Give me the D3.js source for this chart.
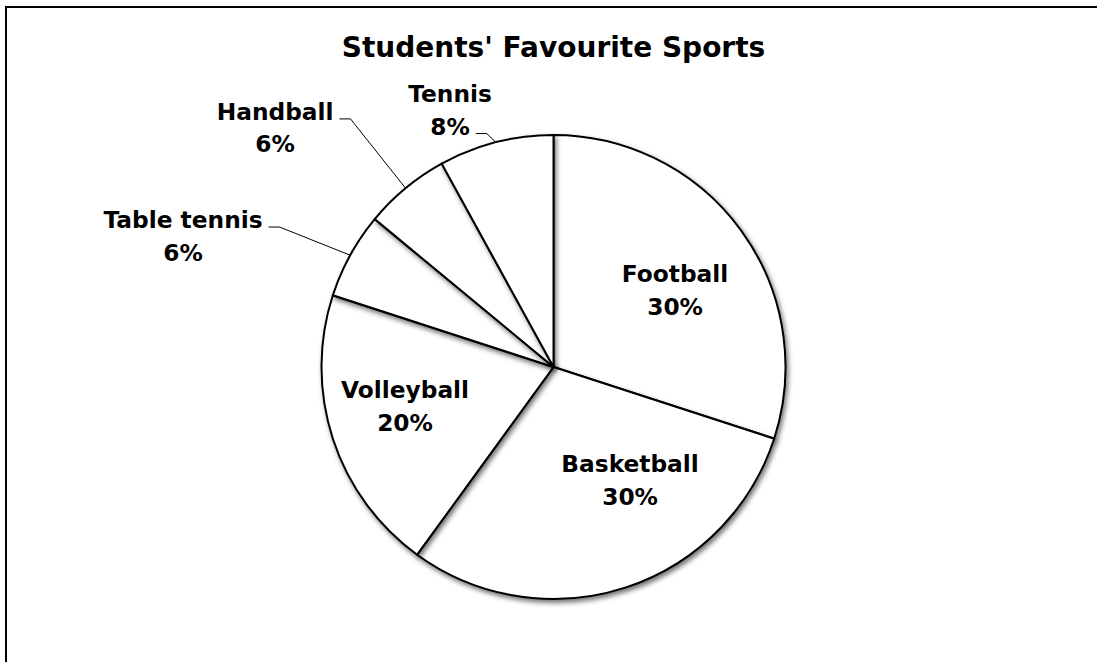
<!DOCTYPE html>
<html lang="en">
<head>
<meta charset="UTF-8">
<title>Students' Favourite Sports</title>
<script src="https://d3js.org/d3.v7.min.js"></script>
<style>
    body { margin: 0; background: #fff; }
    text {
        font-family: "DejaVu Sans", Verdana, sans-serif;
        font-weight: bold;
        fill: #000;
    }
    .slice { fill: #fff; stroke: #000; stroke-width: 2px; }
    .leader { fill: none; stroke: #000; stroke-width: 1px; }
</style>
</head>
<body>
<svg id="chart" width="1097" height="662"></svg>
<script>
// chart data
const sports = ["Football", "Basketball", "Volleyball", "Table tennis", "Handball", "Tennis"];
const shares = [30, 30, 20, 6, 6, 8];

// label layout: centre x / first baseline of each label, relative to pie centre, in radius units
const labelOffsets = [[0.524, -0.366], [0.330, 0.453], [-0.640, 0.134], [-1.597, -0.599], [-1.200, -1.065], [-0.446, -1.142]];
// which line of the label the leader line leaves from (-1 = no leader)
const leaderLine = [-1, -1, -1, 0, 0, 1];

const svg = d3.select("#chart");
const cx = 553.5, cy = 367, r = 232;

// outer frame (cut off by the picture on right and bottom)
svg.append("rect")
    .attr("x", 6).attr("y", 7)
    .attr("width", 1200).attr("height", 800)
    .attr("fill", "none").attr("stroke", "#000").attr("stroke-width", 2);

const defs = svg.append("defs");
const shadow = defs.append("filter").attr("id", "shadow")
    .attr("x", "-20%").attr("y", "-20%").attr("width", "140%").attr("height", "140%");
shadow.append("feDropShadow")
    .attr("dx", 2).attr("dy", 3).attr("stdDeviation", 2.5)
    .attr("flood-color", "#000").attr("flood-opacity", 0.55);

svg.append("text")
    .attr("x", cx).attr("y", 57)
    .attr("text-anchor", "middle")
    .style("font-size", "28px")
    .text("Students' Favourite Sports");

const data = sports.map((s, i) => ({ name: s, value: shares[i], i }));
const pie = d3.pie().value(d => d.value).sort(null);
const arcs = pie(data);
const arc = d3.arc().innerRadius(0).outerRadius(r);
const edge = d3.arc().innerRadius(r).outerRadius(r);

const g = svg.append("g").attr("transform", `translate(${cx},${cy})`);

g.selectAll("path.slice")
    .data(arcs)
    .join("path")
    .attr("class", "slice")
    .attr("d", arc)
    .attr("filter", "url(#shadow)");

// labels
const lineH = 32.5;
arcs.forEach(a => {
    const [ox, oy] = labelOffsets[a.data.i];
    const lx = ox * r, ly = oy * r;
    const t = g.append("text")
        .attr("text-anchor", "middle")
        .style("font-size", "23.3px");
    const spans = [
        t.append("tspan").attr("x", lx).attr("y", ly).text(a.data.name),
        t.append("tspan").attr("x", lx).attr("y", ly + lineH).text(a.data.value + "%")
    ];

    const li = leaderLine[a.data.i];
    if (li >= 0) {
        const w = spans[li].node().getComputedTextLength();
        const [ex, ey] = edge.centroid(a);
        const sx = lx + w / 2 + 6, sy = ly + li * lineH - 1;
        g.append("path")
            .attr("class", "leader")
            .attr("d", `M${sx},${sy}H${sx + 11}L${ex},${ey}`);
    }
});
</script>
</body>
</html>
